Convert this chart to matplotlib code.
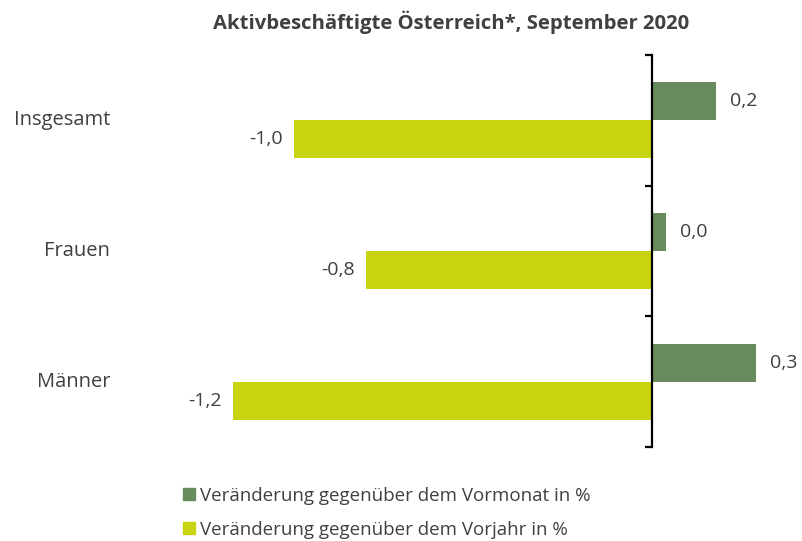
import numpy as np
import matplotlib.pyplot as plt
from matplotlib.transforms import blended_transform_factory
from matplotlib.patches import Patch

plt.rcParams['font.family'] = ['Open Sans', 'DejaVu Sans']

categories = ['Insgesamt', 'Frauen', 'Männer']
vormonat = [0.18, 0.04, 0.29]
vorjahr = [-1.0, -0.8, -1.17]
series_names = ['Veränderung gegenüber dem Vormonat in %',
                'Veränderung gegenüber dem Vorjahr in %']

c_green = '#688b5e'
c_yellow = '#c9d411'
txt = '#404040'

fig = plt.figure(figsize=(8.03, 5.41), dpi=100)
ax = fig.add_axes([0.2547, 0.1738, 0.7356, 0.7246])

y = np.arange(len(categories))
h = 0.29
ax.barh(y - h / 2, vormonat, height=h, color=c_green)
ax.barh(y + h / 2, vorjahr, height=h, color=c_yellow)

ax.set_xlim(-1.25, 0.4)
ax.set_ylim(2.5, -0.5)

def fmt(v):
    return f'{v:.1f}'.replace('.', ',')

for yi, v in zip(y - h / 2, vormonat):
    ax.annotate(fmt(v), (v, yi), xytext=(10, 0), textcoords='offset points',
                ha='left', va='center', fontsize=14, color=txt)
for yi, v in zip(y + h / 2, vorjahr):
    ax.annotate(fmt(v), (v, yi), xytext=(-8, 0), textcoords='offset points',
                ha='right', va='center', fontsize=14, color=txt)

# category labels on the far left
tr = blended_transform_factory(ax.transAxes, ax.transData)
for yi, c in zip(y, categories):
    ax.text(-0.16, yi, c, transform=tr, ha='right', va='center',
            fontsize=14.5, color=txt)

for s in ['top', 'right', 'bottom']:
    ax.spines[s].set_visible(False)
ax.spines['left'].set_position(('data', 0))
ax.spines['left'].set_linewidth(1.6)
ax.set_yticks([-0.5, 0.5, 1.5, 2.5])
ax.set_yticklabels([])
ax.tick_params(axis='y', length=5, width=1.6, direction='out')
ax.set_xticks([])

fig.text(0.562, 0.958, 'Aktivbeschäftigte Österreich*, September 2020',
         ha='center', va='center', fontsize=14.6, fontweight='bold', color=txt)

handles = [Patch(color=c_green), Patch(color=c_yellow)]
fig.legend(handles, series_names, loc='upper left',
           bbox_to_anchor=(0.228, 0.1), frameon=False, fontsize=13.5,
           handlelength=0.62, handleheight=0.62, handletextpad=0.3,
           labelspacing=0.85, labelcolor=txt, borderaxespad=0, borderpad=0)

fig.savefig('out.png', dpi=100)
